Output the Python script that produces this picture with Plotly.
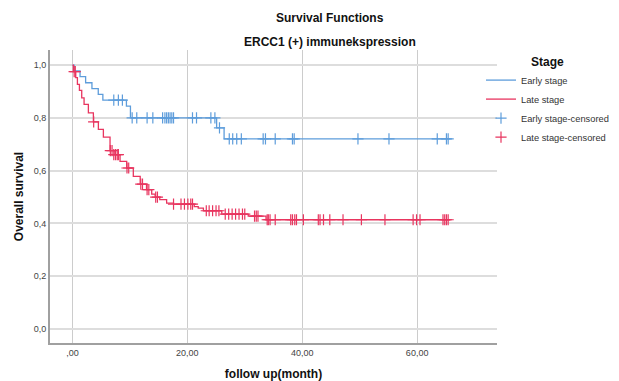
import plotly.graph_objects as go

# Early stage KM step data (time, survival)
early_t = [0, 0.3, 1.33, 2.3, 3.4, 4.5, 5.3, 9.4, 10.1, 25.1, 26.4, 65.8]
early_s = [1.0, 0.978, 0.956, 0.933, 0.911, 0.889, 0.867, 0.844, 0.800, 0.762, 0.720, 0.720]
early_cens_t = [7.2, 8.0, 8.7,
                10.4, 11.2, 13.0, 14.0, 15.7, 16.1, 16.4, 16.7, 17.0, 17.3, 17.6, 20.9, 21.6, 24.1, 24.8,
                25.6,
                27.3, 27.9, 28.6, 29.4, 33.2, 33.6, 35.3, 38.3, 38.6, 49.7, 55.1, 63.5, 65.1, 65.4]
early_cens_s = [0.867, 0.867, 0.867,
                0.8, 0.8, 0.8, 0.8, 0.8, 0.8, 0.8, 0.8, 0.8, 0.8, 0.8, 0.8, 0.8, 0.8, 0.8,
                0.762,
                0.72, 0.72, 0.72, 0.72, 0.72, 0.72, 0.72, 0.72, 0.72, 0.72, 0.72, 0.72, 0.72, 0.72]

# Late stage KM step data
late_t = [0, 0.17, 0.58, 0.87, 1.22, 1.62, 2.03, 2.78, 3.65, 4.52, 5.39, 6.55, 7.4, 8.29, 9.45,
          10.6, 11.8, 12.9, 13.8, 14.4, 15.2, 16.4, 17.6, 21.2, 21.9, 22.8, 26.0, 30.6, 33.7, 65.8]
late_s = [1.0, 0.975, 0.952, 0.927, 0.904, 0.876, 0.851, 0.819, 0.785, 0.756, 0.727, 0.676, 0.661, 0.635, 0.610,
          0.578, 0.549, 0.528, 0.511, 0.500, 0.490, 0.477, 0.473, 0.464, 0.458, 0.448, 0.435, 0.428, 0.414, 0.414]
late_cens_t = [0.3, 0.5, 3.7, 6.6, 6.9, 7.2, 7.5, 7.8, 8.0, 9.5, 9.8, 11.9, 12.2, 13.0, 13.3, 14.5, 14.8,
               17.6, 18.9, 19.5, 20.1, 20.6, 20.9, 23.3, 23.8, 24.4, 25.0, 25.5, 26.6, 27.2, 27.8, 28.4,
               29.0, 29.6, 30.0, 31.7, 32.0, 32.3, 33.9,
               34.1, 34.4, 35.3, 38.0, 38.3, 38.7, 39.0, 40.2, 42.8, 43.1, 43.7, 44.8, 47.1, 50.3, 54.4,
               59.3, 59.9, 60.5, 64.5, 64.8, 65.1, 65.4]
late_cens_s = [0.975, 0.975, 0.785, 0.676, 0.676, 0.661, 0.661, 0.661, 0.661, 0.610, 0.610, 0.549, 0.549,
               0.528, 0.528, 0.500, 0.500,
               0.473, 0.473, 0.473, 0.473, 0.473, 0.473, 0.448, 0.448, 0.448, 0.448, 0.448, 0.435, 0.435,
               0.435, 0.435, 0.435, 0.435, 0.435, 0.428, 0.428, 0.428, 0.414,
               0.414, 0.414, 0.414, 0.414, 0.414, 0.414, 0.414, 0.414, 0.414, 0.414, 0.414, 0.414, 0.414,
               0.414, 0.414, 0.414, 0.414, 0.414, 0.414, 0.414, 0.414, 0.414]

x_tickvals = [0, 20, 40, 60]
x_ticktext = [",00", "20,00", "40,00", "60,00"]
y_tickvals = [0, 0.2, 0.4, 0.6, 0.8, 1.0]
y_ticktext = ["0,0", "0,2", "0,4", "0,6", "0,8", "1,0"]

BLUE = "#5e9ddb"
RED = "#e8355f"

L, R, T, B = 50, 122, 50, 38
PW, PH = 619 - L - R, 381 - T - B

fig = go.Figure()
fig.add_trace(go.Scatter(x=early_t, y=early_s, mode="lines", line=dict(shape="hv", color=BLUE, width=1.3),
                         name="Early stage"))
fig.add_trace(go.Scatter(x=late_t, y=late_s, mode="lines", line=dict(shape="hv", color=RED, width=1.3),
                         name="Late stage"))
fig.add_trace(go.Scatter(x=early_cens_t, y=early_cens_s, mode="markers",
                         marker=dict(symbol="cross-thin", size=8, line=dict(color=BLUE, width=1.2)),
                         name="Early stage-censored"))
fig.add_trace(go.Scatter(x=late_cens_t, y=late_cens_s, mode="markers",
                         marker=dict(symbol="cross-thin", size=8, line=dict(color=RED, width=1.2)),
                         name="Late stage-censored"))

fig.update_layout(
    width=619, height=381,
    margin=dict(l=L, r=R, t=T, b=B, autoexpand=False),
    paper_bgcolor="white", plot_bgcolor="white",
    font=dict(family="Liberation Sans, Arial, sans-serif", color="#222"),
    showlegend=True,
    legend=dict(x=(481 - L) / PW, y=1 + (T - 50) / PH, xanchor="left", yanchor="top",
                title=dict(text="<b>Stage</b>", side="top center", font=dict(size=12, color="#111")),
                font=dict(size=9.3, color="#333"), tracegroupgap=0, itemwidth=30,
                bgcolor="rgba(0,0,0,0)"),
)
fig.add_annotation(text="<b>Survival Functions</b>", xref="paper", yref="paper",
                   x=(330 - L) / PW, y=1 + (T - 18) / PH, showarrow=False,
                   font=dict(size=12, color="#111"), xanchor="center", yanchor="middle")
fig.add_annotation(text="<b>ERCC1 (+) immunekspression</b>", xref="paper", yref="paper",
                   x=(330 - L) / PW, y=1 + (T - 42) / PH, showarrow=False,
                   font=dict(size=12, color="#111"), xanchor="center", yanchor="middle")

fig.update_xaxes(range=[-3.9, 73.9], tickvals=x_tickvals, ticktext=x_ticktext,
                 showgrid=True, gridcolor="#cccccc", gridwidth=1, zeroline=False,
                 showline=True, linecolor="#a0a0a0", linewidth=2,
                 ticks="", tickfont=dict(size=9, color="#444"),
                 title=dict(text="<b>follow up(month)</b>", font=dict(size=12, color="#111"), standoff=14))
fig.update_yaxes(range=[-0.053, 1.057], tickvals=y_tickvals, ticktext=y_ticktext,
                 showgrid=True, gridcolor="#dddddd", gridwidth=2, zeroline=False,
                 showline=True, linecolor="#a0a0a0", linewidth=2,
                 ticks="", tickfont=dict(size=9, color="#444"),
                 title=dict(text="<b>Overall survival</b>", font=dict(size=12, color="#111"), standoff=7))

fig.write_html("out.html", config={"displayModeBar": False},
               post_script="document.body.style.margin='0';document.body.style.overflow='hidden';")
